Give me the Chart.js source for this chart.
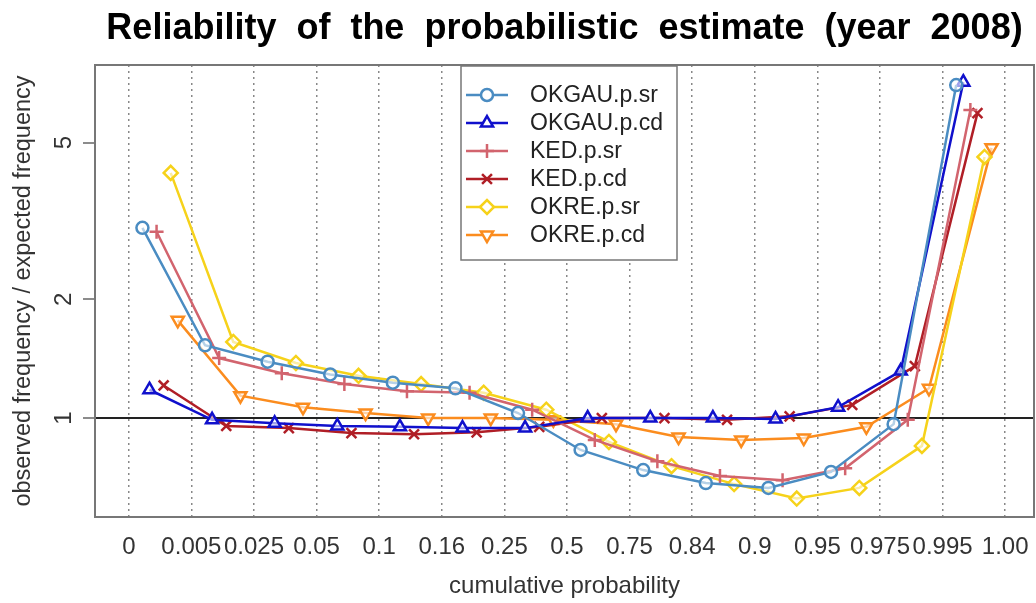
<!DOCTYPE html>
<html>
<head>
<meta charset="utf-8">
<script src="https://cdn.jsdelivr.net/npm/chart.js@4.4.1/dist/chart.umd.min.js"></script>
<style>
  html, body { margin: 0; padding: 0; background: #fff; }
  #wrap { width: 1036px; height: 603px; }
</style>
</head>
<body>
<div id="wrap"><canvas id="grafico" width="1036" height="603"></canvas></div>
<script>
// quantile boundaries (x axis tick labels)
const probLabels = ["0", "0.005", "0.025", "0.05", "0.1", "0.16", "0.25", "0.5", "0.75", "0.84", "0.9", "0.95", "0.975", "0.995", "1.00"];
const yTicks = [1, 2, 5];
const titulo = "Reliability of the probabilistic estimate (year 2008)";

const seriesNames = ["OKGAU.p.sr", "OKGAU.p.cd", "KED.p.sr", "KED.p.cd", "OKRE.p.sr", "OKRE.p.cd"];

// observed / expected frequency for each of the 14 intervals
const okgauPSr = [3.04, 1.53, 1.39, 1.29, 1.23, 1.19, 1.03, 0.83, 0.738, 0.684, 0.665, 0.73, 0.965, 7.0];
const okgauPCd = [1.18, 0.99, 0.97, 0.955, 0.95, 0.943, 0.943, 1.0, 1.0, 1.0, 0.995, 1.066, 1.316, 7.12];
const kedPSr = [2.97, 1.42, 1.30, 1.22, 1.17, 1.16, 1.05, 0.88, 0.777, 0.713, 0.695, 0.746, 0.99, 6.05];
const kedPCd = [1.21, 0.955, 0.943, 0.916, 0.91, 0.92, 0.95, 1.0, 1.0, 0.99, 1.01, 1.08, 1.355, 5.94];
const okrePSr = [4.19, 1.56, 1.38, 1.28, 1.22, 1.16, 1.05, 0.87, 0.755, 0.68, 0.625, 0.665, 0.85, 4.6];
const okrePCd = [1.77, 1.14, 1.066, 1.03, 1.0, 1.0, 0.99, 0.965, 0.895, 0.88, 0.89, 0.95, 1.19, 4.85];

const allSeries = [okgauPSr, okgauPCd, kedPSr, kedPCd, okrePSr, okrePCd];
const cores = ["#4a8cc2", "#1010cc", "#d2646e", "#b01e26", "#f6d21a", "#fb8c1e"];
const estilos = ["circle", "triangle", "cross", "crossRot", "rectRot", "triangle"];
const rotacoes = [0, 0, 0, 0, 0, 180];
const raios = [6, 7, 7, 7, 7, 7];

const fonte = '"Liberation Sans", Arial, sans-serif';
const dodge = 0.113; // shift of each series inside an interval

function pontos(serie, s) {
  return serie.map((v, i) => ({ x: i + 0.5 + (s - 2.5) * dodge, y: v }));
}

const datasets = allSeries.map((serie, s) => ({
  label: seriesNames[s],
  data: pontos(serie, s),
  borderColor: cores[s],
  backgroundColor: cores[s],
  borderWidth: 2.5,
  pointStyle: estilos[s],
  pointRotation: rotacoes[s],
  pointRadius: raios[s],
  pointBorderWidth: 2.5,
  pointBackgroundColor: "rgba(255,255,255,0.6)",
  pointBorderColor: cores[s],
  tension: 0,
}));

// title centred over the plot, R style word spacing
const tituloPlugin = {
  id: "tituloPlugin",
  afterDraw(chart) {
    const a = chart.chartArea;
    const ctx = chart.ctx;
    ctx.save();
    ctx.font = "bold 36px " + fonte;
    ctx.fillStyle = "#000";
    ctx.textAlign = "center";
    ctx.textBaseline = "middle";
    if ("wordSpacing" in ctx) ctx.wordSpacing = "10px";
    ctx.fillText(titulo, (a.left + a.right) / 2, 29);
    ctx.restore();
  },
};

// plot frame
const moldura = {
  id: "moldura",
  beforeDatasetsDraw(chart) {
    const a = chart.chartArea;
    const ctx = chart.ctx;
    ctx.save();
    ctx.strokeStyle = "#777";
    ctx.lineWidth = 2;
    ctx.strokeRect(a.left, a.top, a.right - a.left, a.bottom - a.top);
    ctx.restore();
  },
};

// rotated y tick labels like R's default
const yTickText = {
  id: "yTickText",
  afterDraw(chart) {
    const sc = chart.scales.y;
    const ctx = chart.ctx;
    ctx.save();
    ctx.font = "24px " + fonte;
    ctx.fillStyle = "#333";
    ctx.textAlign = "center";
    ctx.textBaseline = "middle";
    yTicks.forEach((v) => {
      const y = sc.getPixelForValue(v);
      ctx.save();
      ctx.translate(sc.right - 31, y);
      ctx.rotate(-Math.PI / 2);
      ctx.fillText(String(v), 0, 0);
      ctx.restore();
    });
    ctx.restore();
  },
};

// legend box inside the plot
const legendaBox = {
  id: "legendaBox",
  afterDatasetsDraw(chart) {
    const ctx = chart.ctx;
    const a = chart.chartArea;
    const x0 = a.left + 366, y0 = a.top + 1, w = 216, h = 194;
    ctx.save();
    ctx.fillStyle = "#fff";
    ctx.fillRect(x0, y0, w, h);
    ctx.strokeStyle = "#777";
    ctx.lineWidth = 1.5;
    ctx.strokeRect(x0, y0, w, h);
    chart.data.datasets.forEach((ds, k) => {
      const y = y0 + 29 + 28 * k;
      ctx.strokeStyle = ds.borderColor;
      ctx.lineWidth = 2.5;
      ctx.beginPath();
      ctx.moveTo(x0 + 5, y);
      ctx.lineTo(x0 + 47, y);
      ctx.stroke();
      ctx.fillStyle = "#fff";
      Chart.helpers.drawPoint(ctx, {
        pointStyle: ds.pointStyle,
        radius: ds.pointRadius,
        borderWidth: 2.5,
        rotation: ds.pointRotation,
      }, x0 + 26, y);
      ctx.fillStyle = "#222";
      ctx.font = "23px " + fonte;
      ctx.textAlign = "left";
      ctx.textBaseline = "middle";
      ctx.fillText(ds.label, x0 + 69, y + 1);
    });
    ctx.restore();
  },
};

const ctx = document.getElementById("grafico").getContext("2d");
let myChart = new Chart(ctx, {
  type: "line",
  data: { datasets: datasets },
  plugins: [tituloPlugin, moldura, yTickText, legendaBox],
  options: {
    responsive: false,
    animation: false,
    devicePixelRatio: 1,
    layout: { autoPadding: false, padding: { left: 0, right: 2, top: 65, bottom: 0 } },
    plugins: {
      legend: { display: false },
      tooltip: { enabled: false },
      title: { display: false },
    },
    scales: {
      x: {
        type: "linear",
        min: -0.54,
        max: 14.46,
        afterBuildTicks: (s) => {
          s.ticks = probLabels.map((_, i) => ({ value: i }));
        },
        afterFit: (s) => {
          s.height = 86;
          s.paddingLeft = 0;
          s.paddingRight = 0;
        },
        ticks: {
          callback: (v) => probLabels[v],
          autoSkip: false,
          maxRotation: 0,
          padding: 16,
          color: "#333",
          font: { family: fonte, size: 24 },
        },
        grid: { color: "#888", lineWidth: 1.5, drawTicks: false },
        border: { display: false, dash: [2, 4] },
        title: {
          display: true,
          text: "cumulative probability",
          color: "#333",
          font: { family: fonte, size: 24 },
          padding: { top: 0, bottom: 2 },
        },
      },
      y: {
        type: "logarithmic",
        min: 0.561,
        max: 7.87,
        afterBuildTicks: (s) => {
          s.ticks = yTicks.map((v) => ({ value: v }));
        },
        afterFit: (s) => {
          s.width = 95;
          s.paddingTop = 0;
          s.paddingBottom = 0;
        },
        ticks: { display: false },
        grid: {
          color: (c) => (c.tick && c.tick.value === 1 ? "#222" : "rgba(0,0,0,0)"),
          lineWidth: 2,
          drawTicks: true,
          tickLength: 12,
          tickColor: "#666",
          tickWidth: 1.5,
        },
        border: { display: false },
        title: {
          display: true,
          text: "observed frequency / expected frequency",
          color: "#333",
          font: { family: fonte, size: 23.5 },
          padding: { top: 9, bottom: 0 },
        },
      },
    },
  },
});
</script>
</body>
</html>
